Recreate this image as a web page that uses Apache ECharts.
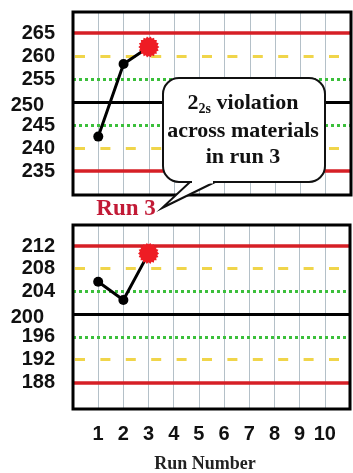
<!DOCTYPE html>
<html>
<head>
<meta charset="utf-8">
<script src="https://cdn.jsdelivr.net/npm/echarts@6/dist/echarts.min.js"></script>
<style>
  html, body { margin: 0; padding: 0; background: #fff; }
  #chart { width: 353px; height: 473px; }
</style>
</head>
<body>
<div id="chart"></div>
<script>
// Levey-Jennings style control chart for two materials
const runLabels = [1, 2, 3, 4, 5, 6, 7, 8, 9, 10];
const runs = [1, 2, 3];
const topValues = [242.5, 258.3, 262.0];
const bottomValues = [205.7, 202.5, 210.7];
const topLevels = [235, 240, 245, 250, 255, 260, 265];
const bottomLevels = [188, 192, 196, 200, 204, 208, 212];
const topMean = 250;
const bottomMean = 200;
const violationRun = 3;

// spiky burst outline used for the flagged point
function burstPath(spikes) {
  let d = '';
  for (let i = 0; i < spikes * 2; i++) {
    const r = i % 2 === 0 ? 50 : 42;
    const a = (Math.PI * i) / spikes;
    const x = 50 + r * Math.cos(a);
    const y = 50 + r * Math.sin(a);
    d += (i === 0 ? 'M' : 'L') + x.toFixed(2) + ' ' + y.toFixed(2) + ' ';
  }
  return 'path://' + d + 'Z';
}
const burst = burstPath(18);

// control-limit line styles, from -3SD up to +3SD
function levelStyle(i) {
  const k = Math.abs(i - 3);
  if (k === 3) return { color: '#d61f26', width: 3.5, type: 'solid' };
  if (k === 2) return { color: '#f0d54a', width: 3, type: [10, 15.4], dashOffset: -2 };
  if (k === 1) return { color: '#3bbf3b', width: 3, type: [3, 3] };
  return { color: '#000', width: 3, type: 'solid' };
}

function pointData(values) {
  return runs.map((r, i) => {
    const item = { value: [r, values[i]] };
    if (r === violationRun) {
      item.symbol = burst;
      item.symbolSize = 21;
      item.itemStyle = { color: '#ee1c24', borderWidth: 0 };
    }
    return item;
  });
}

const labelFont = { fontFamily: 'Liberation Sans', fontWeight: 'bold', fontSize: 20, color: '#111' };

function yAxis(gridIndex, min, max, levels, mean) {
  return {
    type: 'value', gridIndex, min, max,
    axisLine: { show: false }, axisTick: { show: false }, splitLine: { show: false },
    axisLabel: {
      customValues: levels,
      margin: 18,
      formatter: v => (v === mean ? '{m|' + v + '}' : '{n|' + v + '}'),
      rich: {
        n: Object.assign({}, labelFont),
        m: Object.assign({ padding: [6, 11, 0, 0] }, labelFont)
      }
    }
  };
}

function xAxis(gridIndex, showLabels) {
  return {
    type: 'value', gridIndex, min: 0, max: 11, interval: 1,
    axisLine: { show: false }, axisTick: { show: false },
    splitLine: { show: true, lineStyle: { color: '#b4c0c8', width: 1 } },
    axisLabel: {
      show: showLabels, margin: 15,
      formatter: v => (runLabels.indexOf(v) >= 0 ? String(v) : ''),
      fontFamily: 'Liberation Sans', fontWeight: 'bold', fontSize: 20, color: '#111'
    }
  };
}

function limitSeries(axisIndex, levels) {
  return {
    type: 'line', xAxisIndex: axisIndex, yAxisIndex: axisIndex, data: [], z: 1, silent: true,
    markLine: {
      z: 1, silent: true, symbol: 'none', animation: false,
      label: { show: false },
      data: levels.map((v, i) => ({ yAxis: v, lineStyle: levelStyle(i) }))
    }
  };
}

function dataSeries(axisIndex, values) {
  return {
    type: 'line', xAxisIndex: axisIndex, yAxisIndex: axisIndex, z: 5,
    data: pointData(values),
    symbol: 'circle', symbolSize: 10,
    lineStyle: { color: '#000', width: 3 },
    itemStyle: { color: '#000' },
    animation: false
  };
}

const serif = 'Liberation Serif';

// frames sit above the grid lines so the border keeps its full weight
const frame = { show: true, borderColor: '#000', borderWidth: 3, backgroundColor: 'transparent', z: 10 };

const option = {
  animation: false,
  backgroundColor: '#fff',
  grid: [
    Object.assign({ left: 73, top: 12, width: 278, height: 183 }, frame),
    Object.assign({ left: 73, top: 225, width: 278, height: 184 }, frame)
  ],
  xAxis: [xAxis(0, false), xAxis(1, true)],
  yAxis: [
    yAxis(0, 229.8, 269.6, topLevels, topMean),
    yAxis(1, 183.3, 215.7, bottomLevels, bottomMean)
  ],
  series: [
    limitSeries(0, topLevels),
    limitSeries(1, bottomLevels),
    dataSeries(0, topValues),
    dataSeries(1, bottomValues)
  ],
  graphic: [
    // callout bubble: rounded box plus a tail pointing at the run label
    {
      type: 'rect', z: 20,
      shape: { x: 163, y: 78, width: 162, height: 104, r: 16 },
      style: { fill: '#fff', stroke: '#111', lineWidth: 2 }
    },
    {
      type: 'polygon', z: 20,
      shape: { points: [[215, 182], [162, 208], [190, 182]] },
      style: { fill: '#fff', stroke: '#111', lineWidth: 2 }
    },
    {
      type: 'line', z: 20,
      shape: { x1: 192, y1: 182, x2: 213, y2: 182 },
      style: { stroke: '#fff', lineWidth: 3 }
    },
    {
      type: 'text', z: 21, x: 243, y: 103,
      style: {
        text: '{a|2}{s|2s}{a| violation}',
        align: 'center', verticalAlign: 'middle',
        rich: {
          a: { fontFamily: serif, fontWeight: 'bold', fontSize: 22, fill: '#111' },
          s: { fontFamily: serif, fontWeight: 'bold', fontSize: 14, fill: '#111', padding: [12, 0, 0, 0] }
        }
      }
    },
    {
      type: 'text', z: 21, x: 243, y: 131,
      style: { text: 'across materials', align: 'center', verticalAlign: 'middle', fontFamily: serif, fontWeight: 'bold', fontSize: 22, fill: '#111' }
    },
    {
      type: 'text', z: 21, x: 243, y: 157,
      style: { text: 'in run 3', align: 'center', verticalAlign: 'middle', fontFamily: serif, fontWeight: 'bold', fontSize: 22, fill: '#111' }
    },
    {
      type: 'text', z: 21, x: 126, y: 209,
      style: { text: 'Run 3', align: 'center', verticalAlign: 'middle', fontFamily: serif, fontWeight: 'bold', fontSize: 23, fill: '#c21a36' }
    },
    {
      type: 'text', z: 21, x: 205, y: 464,
      style: { text: 'Run Number', align: 'center', verticalAlign: 'middle', fontFamily: serif, fontWeight: 'bold', fontSize: 18, fill: '#222' }
    }
  ]
};

const chart = echarts.init(document.getElementById('chart'), null, { renderer: 'canvas' });
chart.setOption(option);
</script>
</body>
</html>
